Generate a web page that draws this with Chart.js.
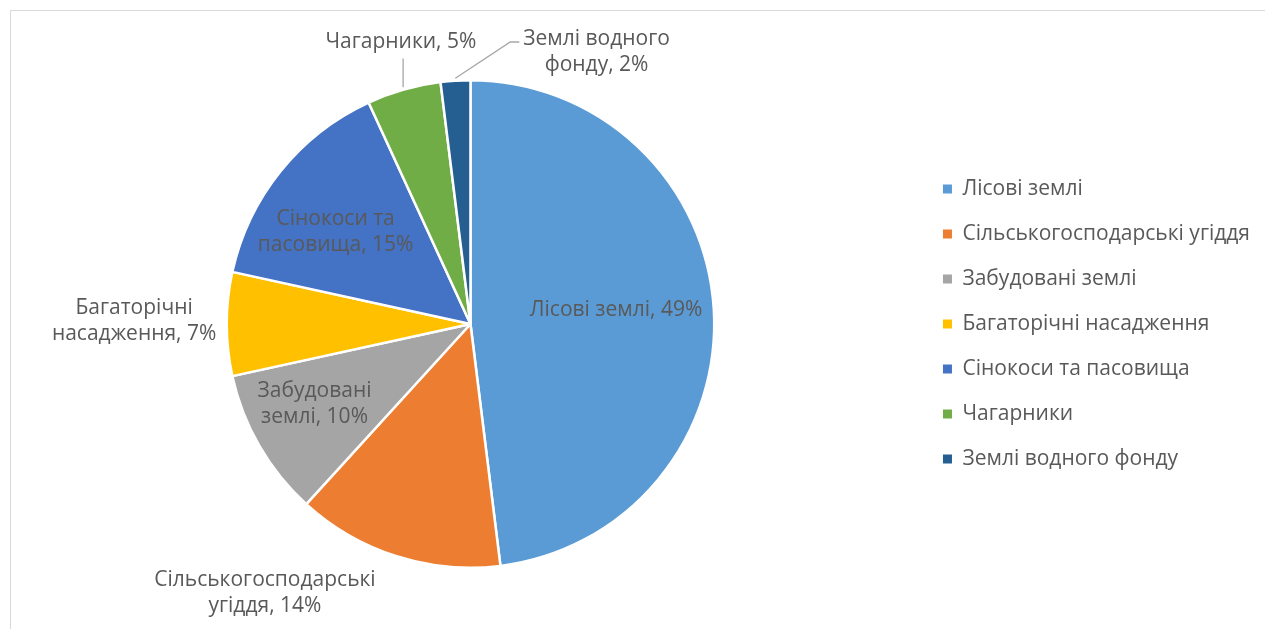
<!DOCTYPE html>
<html lang="uk">
<head>
<meta charset="UTF-8">
<title>Структура земель</title>
<script src="https://cdn.jsdelivr.net/npm/chart.js"></script>
<style>
  html, body { margin: 0; padding: 0; background: #fff; overflow: hidden; }
  .frame { position: absolute; left: 10px; top: 10px; width: 1400px; height: 800px; border: 1px solid #d9d9d9; }
  .chart-box { position: absolute; left: 0; top: 0; width: 1265px; height: 629px; }
</style>
</head>
<body>
<div class="frame"></div>
<div class="chart-box"><canvas id="land-chart"></canvas></div>
<script>
const categories = ['Лісові землі', 'Сільськогосподарські угіддя', 'Забудовані землі', 'Багаторічні насадження', 'Сінокоси та пасовища', 'Чагарники', 'Землі водного фонду'];
const shares = [49, 14, 10, 7, 15, 5, 2];
const sliceColors = ['#5b9bd5', '#ed7d31', '#a5a5a5', '#ffc000', '#4472c4', '#70ad47', '#255e91'];

// де ставити підпис: частка радіуса, поворот від середини сектора (градуси), ширина переносу
const labelPlacement = [
    { r: 0.6, turn: -2, wrap: 300 },
    { r: 1.39, turn: 19.7, wrap: 250 },
    { r: 0.72, turn: 2.7, wrap: 140 },
    { r: 1.38, turn: 0.5, wrap: 185 },
    { r: 0.67, turn: -4.5, wrap: 185 },
    { r: 1.19, turn: 2, wrap: 300, leader: 'bottom' },
    { r: 1.23, turn: 28.4, wrap: 175, leader: 'left' }
];

const FONT_FAMILY = '"Open Sans"';
const FONT_SIZE = 21;
const TEXT_COLOR = '#595959';

function wrapText(ctx, text, maxWidth) {
    const words = text.split(' ');
    const lines = [];
    let line = '';
    words.forEach(w => {
        const test = line ? line + ' ' + w : w;
        if (line && ctx.measureText(test).width > maxWidth) {
            lines.push(line);
            line = w;
        } else {
            line = test;
        }
    });
    lines.push(line);
    return lines;
}

const sliceLabels = {
    id: 'sliceLabels',
    afterDatasetsDraw(chart) {
        const ctx = chart.ctx;
        const arcs = chart.getDatasetMeta(0).data;
        const lh = 26;
        ctx.save();
        ctx.font = FONT_SIZE + 'px ' + FONT_FAMILY;
        ctx.fillStyle = TEXT_COLOR;
        ctx.textAlign = 'center';
        ctx.textBaseline = 'middle';
        arcs.forEach((arc, i) => {
            const p = labelPlacement[i];
            const mid = (arc.startAngle + arc.endAngle) / 2;
            const a = mid + p.turn * Math.PI / 180;
            const R = arc.outerRadius;
            const cx = arc.x + Math.cos(a) * R * p.r;
            const cy = arc.y + Math.sin(a) * R * p.r;
            const lines = wrapText(ctx, categories[i] + ', ' + shares[i] + '%', p.wrap);
            const top = cy - (lines.length - 1) * lh / 2;
            lines.forEach((t, k) => ctx.fillText(t, cx, top + k * lh));

            if (p.leader) {
                const ex = arc.x + Math.cos(mid) * R * 1.01;
                const ey = arc.y + Math.sin(mid) * R * 1.01;
                ctx.strokeStyle = '#a6a6a6';
                ctx.lineWidth = 1.3;
                ctx.beginPath();
                ctx.moveTo(ex, ey);
                if (p.leader === 'bottom') {
                    ctx.lineTo(ex, top + (lines.length - 1) * lh + 16);
                } else {
                    const lx = cx - ctx.measureText(lines[0]).width / 2 - 4;
                    ctx.lineTo(lx - 9, top + 3);
                    ctx.lineTo(lx, top + 3);
                }
                ctx.stroke();
            }
        });
        ctx.restore();
    }
};

const ctx = document.getElementById('land-chart').getContext('2d');
const landChart = new Chart(ctx, {
    type: 'pie',
    data: {
        labels: categories,
        datasets: [{
            data: shares,
            backgroundColor: sliceColors,
            borderColor: '#ffffff',
            borderWidth: 2.5
        }]
    },
    options: {
        responsive: true,
        maintainAspectRatio: false,
        animation: false,
        layout: {
            padding: { top: 79, bottom: 60, left: 22, right: 5 }
        },
        plugins: {
            tooltip: { enabled: false },
            legend: {
                position: 'right',
                labels: {
                    boxWidth: 9,
                    boxHeight: 9,
                    padding: 24,
                    color: TEXT_COLOR,
                    font: { family: FONT_FAMILY, size: FONT_SIZE },
                    generateLabels(chart) {
                        return Chart.overrides.pie.plugins.legend.labels.generateLabels(chart)
                            .map(item => ({ ...item, lineWidth: 0, strokeStyle: 'rgba(0,0,0,0)' }));
                    }
                }
            }
        }
    },
    plugins: [sliceLabels]
});
</script>
</body>
</html>
